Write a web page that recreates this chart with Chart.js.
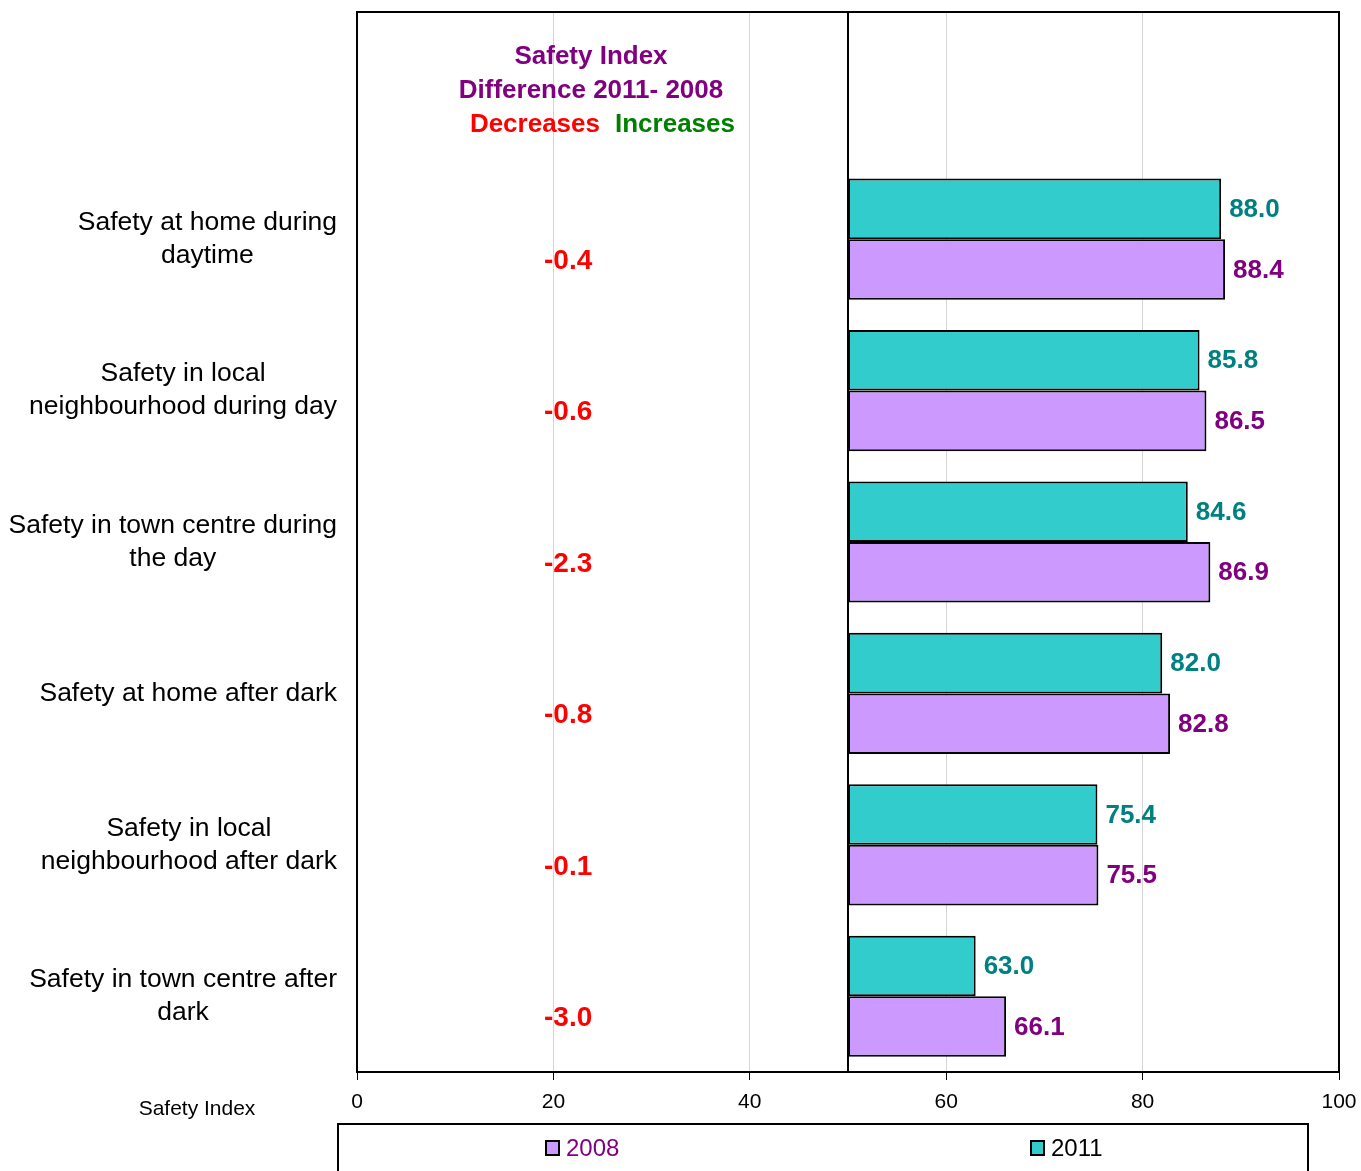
<!DOCTYPE html>
<html>
<head>
<meta charset="utf-8">
<script src="https://cdn.jsdelivr.net/npm/chart.js@4.4.0/dist/chart.umd.min.js"></script>
<style>
  html, body { margin: 0; padding: 0; background: #fff; }
  #wrap { width: 1361px; height: 1171px; position: relative; }
</style>
</head>
<body>
<div id="wrap"><canvas id="safetyChart"></canvas></div>
<script>
// Categories (first slot is left empty: the title block sits there)
const categories = [
    [''],
    ['Safety at home during', 'daytime'],
    ['Safety in local', 'neighbourhood during day'],
    ['Safety in town centre during', 'the day'],
    ['Safety at home after dark'],
    ['Safety in local', 'neighbourhood after dark'],
    ['Safety in town centre after', 'dark']
];
const values2011 = [null, 88.0, 85.8, 84.6, 82.0, 75.4, 63.0];
const values2008 = [null, 88.4, 86.5, 86.9, 82.8, 75.5, 66.1];
const differences = [null, '-0.4', '-0.6', '-2.3', '-0.8', '-0.1', '-3.0'];
const baseValue = 50;
const xTicks = [0, 20, 40, 60, 80, 100];

const PURPLE = '#800080';
const TEAL = '#008080';

// Floating bars start from the 50 line
function toRange(list) {
    return list.map(v => v === null ? null : [baseValue, v]);
}

const overlayPlugin = {
    id: 'overlay',
    beforeDatasetsDraw(chart) {
        const ctx = chart.ctx;
        const area = chart.chartArea;
        const x50 = chart.scales.x.getPixelForValue(baseValue);
        ctx.save();
        ctx.strokeStyle = '#000';
        ctx.lineWidth = 2;
        ctx.beginPath();
        ctx.moveTo(x50, area.top);
        ctx.lineTo(x50, area.bottom);
        ctx.stroke();
        ctx.restore();
    },
    afterDatasetsDraw(chart) {
        const ctx = chart.ctx;
        const area = chart.chartArea;
        const xs = chart.scales.x;
        const ys = chart.scales.y;
        ctx.save();

        // frame round the plot
        ctx.strokeStyle = '#000';
        ctx.lineWidth = 2;
        ctx.strokeRect(area.left, area.top, area.right - area.left, area.bottom - area.top);

        // value labels at bar ends
        ctx.font = 'bold 26px "Liberation Sans", Arial, sans-serif';
        ctx.textBaseline = 'middle';
        ctx.textAlign = 'left';
        chart.data.datasets.forEach((ds, i) => {
            const meta = chart.getDatasetMeta(i);
            ctx.fillStyle = ds.labelColor;
            meta.data.forEach((bar, j) => {
                const v = i === 0 ? values2011[j] : values2008[j];
                if (v === null) return;
                ctx.fillText(v.toFixed(1), bar.x + 8, bar.y + 1);
            });
        });

        // differences column
        ctx.font = 'bold 28px "Liberation Sans", Arial, sans-serif';
        ctx.fillStyle = '#FF0000';
        ctx.textAlign = 'center';
        const diffX = xs.getPixelForValue(21.5);
        differences.forEach((d, j) => {
            if (d === null) return;
            ctx.fillText(d, diffX, ys.getPixelForValue(j) + 22);
        });

        // title block inside plot
        ctx.font = 'bold 26px "Liberation Sans", Arial, sans-serif';
        const tx = area.left + 234;
        ctx.fillStyle = PURPLE;
        ctx.fillText('Safety Index', tx, 57);
        ctx.fillText('Difference 2011- 2008', tx, 91);
        ctx.textAlign = 'right';
        ctx.fillStyle = '#FF0000';
        ctx.fillText('Decreases', tx + 9, 125);
        ctx.textAlign = 'left';
        ctx.fillStyle = '#008000';
        ctx.fillText('Increases', tx + 24, 125);

        // category labels: centred lines, block right-aligned to the axis
        ctx.font = '26.5px "Liberation Sans", Arial, sans-serif';
        ctx.fillStyle = '#000';
        ctx.textAlign = 'center';
        const lineH = 33;
        categories.forEach((lines, j) => {
            if (!lines[0]) return;
            const maxW = Math.max(...lines.map(l => ctx.measureText(l).width));
            const cx = area.left - 20 - maxW / 2;
            const cy = ys.getPixelForValue(j);
            lines.forEach((l, k) => {
                ctx.fillText(l, cx, cy + (k - (lines.length - 1) / 2) * lineH);
            });
        });

        // axis caption
        ctx.font = '21px "Liberation Sans", Arial, sans-serif';
        ctx.fillText('Safety Index', 197, 1109);

        // legend box
        ctx.lineWidth = 2;
        ctx.strokeRect(338, 1124, 970, 70);
        const items = [
            { label: '2008', fill: '#CC99FF', text: PURPLE, x: 546 },
            { label: '2011', fill: '#33CCCC', text: '#000', x: 1031 }
        ];
        ctx.font = '24px "Liberation Sans Narrow", "Liberation Sans", Arial, sans-serif';
        ctx.textAlign = 'left';
        items.forEach(it => {
            ctx.fillStyle = it.fill;
            ctx.fillRect(it.x, 1141, 13, 14);
            ctx.strokeStyle = '#000';
            ctx.lineWidth = 2;
            ctx.strokeRect(it.x, 1141, 13, 14);
            ctx.fillStyle = it.text;
            ctx.fillText(it.label, it.x + 20, 1149);
        });

        ctx.restore();
    }
};

new Chart(document.getElementById('safetyChart'), {
    type: 'bar',
    data: {
        labels: categories.map(c => c.join(' ')),
        datasets: [
            {
                label: '2011',
                data: toRange(values2011),
                backgroundColor: '#33CCCC',
                borderColor: '#000',
                borderWidth: 2,
                borderSkipped: false,
                labelColor: TEAL
            },
            {
                label: '2008',
                data: toRange(values2008),
                backgroundColor: '#CC99FF',
                borderColor: '#000',
                borderWidth: 2,
                borderSkipped: false,
                labelColor: PURPLE
            }
        ]
    },
    options: {
        indexAxis: 'y',
        responsive: true,
        maintainAspectRatio: false,
        animation: false,
        layout: { padding: { top: 12, right: 22, left: 0, bottom: 0 } },
        datasets: { bar: { categoryPercentage: 0.8, barPercentage: 1.0 } },
        scales: {
            x: {
                min: 0,
                max: 100,
                afterBuildTicks: scale => { scale.ticks = xTicks.map(v => ({ value: v })); },
                afterFit: scale => {
                    scale.height = 99;
                    scale.paddingLeft = 0;
                    scale.paddingRight = 0;
                },
                grid: {
                    color: c => (c.tick && (c.tick.value === 0 || c.tick.value === 100)) ? '#000' : '#D4D4D4',
                    tickColor: '#000',
                    tickLength: 8,
                    lineWidth: 1
                },
                border: { color: '#000', width: 2 },
                ticks: {
                    color: '#000',
                    padding: 10,
                    font: { family: '"Liberation Sans Narrow", "Liberation Sans", Arial', size: 21 }
                }
            },
            y: {
                afterFit: scale => { scale.width = 357; },
                grid: { display: false },
                border: { color: '#000', width: 2 },
                ticks: { display: false }
            }
        },
        plugins: {
            legend: { display: false },
            tooltip: { enabled: false }
        }
    },
    plugins: [overlayPlugin]
});
</script>
</body>
</html>
